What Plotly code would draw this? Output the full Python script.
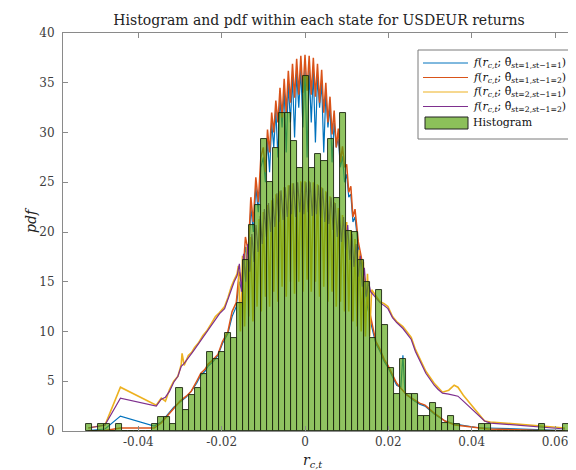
import plotly.graph_objects as go

# ---------------- data ----------------
bin_start = -0.0526
bin_width = 0.00145
hist_heights = [
    0.7, 0, 0.7, 0.7, 0, 0.7, 0, 0, 0, 0,
    0, 0.7, 1.4, 1.4, 0.7, 4.3, 2.1, 3.6, 4.3, 5.7,
    7.9, 7.2, 7.9, 9.9, 9.3, 12.9, 17.2, 20.7, 22.7, 29.3,
    25.0, 28.4, 32.0, 32.0, 29.1, 26.4, 35.7, 26.4, 27.8, 27.1,
    29.3, 23.4, 32.0, 20.1, 20.0, 17.2, 15.0, 9.3, 14.2, 10.7,
    6.3, 3.7, 7.2, 3.7, 3.7, 1.5, 1.5, 2.8, 2.3, 0.8,
    1.5, 0.7, 0, 0, 0, 0.7, 0.7, 0, 0, 0,
    0, 0, 0, 0, 0, 0.7, 0, 0, 0, 0.7,
]

# f(r; theta s_t=1, s_t-1=1)  (blue)
blue_x = [-0.0520, -0.0480, -0.0443, -0.0362, -0.0345, -0.0330, -0.0315, -0.0300, -0.0285, -0.0273,
          -0.0260, -0.0250, -0.0240, -0.0233, -0.0220, -0.0209, -0.0198, -0.0185, -0.0175, -0.0165,
          -0.0158, -0.0150, -0.0143, -0.0136, -0.0130, -0.0124, -0.0118, -0.0112, -0.0106, -0.0100,
          -0.0095, -0.0090, -0.0085, -0.0080, -0.0075, -0.0070, -0.0065, -0.0060, -0.0055, -0.0050,
          -0.0045, -0.0040, -0.0035, -0.0030, -0.0025, -0.0020, -0.0015, -0.0010, -0.0005, 0.0000,
          0.0005, 0.0010, 0.0015, 0.0020, 0.0025, 0.0030, 0.0035, 0.0040, 0.0045, 0.0050,
          0.0055, 0.0060, 0.0065, 0.0070, 0.0075, 0.0080, 0.0085, 0.0090, 0.0095, 0.0100,
          0.0105, 0.0110, 0.0115, 0.0120, 0.0128, 0.0135, 0.0142, 0.0150, 0.0160, 0.0170,
          0.0180, 0.0190, 0.0199, 0.0210, 0.0220, 0.0230, 0.0235, 0.0240, 0.0260, 0.0275,
          0.0288, 0.0310, 0.0336, 0.0360, 0.0420, 0.0440, 0.0567, 0.0624]
blue_y = [0.05, 0.2, 1.5, 0.5, 0.9, 1.6, 2.4, 2.9, 3.4, 4.0,
          4.8, 5.6, 6.0, 6.5, 7.0, 7.6, 8.8, 9.8, 11.5, 12.5,
          15.0, 14.0, 18.5, 17.0, 22.5, 20.0, 24.5, 22.0, 26.5, 27.5,
          25.0, 29.3, 26.0, 31.0, 28.5, 32.3, 27.5, 33.5, 30.5, 34.3,
          28.0, 35.0, 31.0, 35.6, 29.5, 36.0, 32.5, 36.3, 30.5, 36.4,
          27.5, 36.3, 31.0, 36.1, 29.0, 35.6, 32.5, 35.0, 28.0, 34.0,
          30.5, 32.6, 27.0, 31.0, 28.5, 29.4, 26.5, 27.6, 25.0, 25.8,
          23.5, 23.8, 21.0, 21.5, 18.5, 17.0, 15.0, 12.5, 10.5, 8.8,
          8.0, 7.0, 6.4, 5.4, 4.6, 4.4, 7.6, 3.8, 3.1, 2.7,
          2.5, 1.7, 1.0, 0.7, 0.3, 0.3, 0.1, 0.05]

# f(r; theta s_t=1, s_t-1=2)  (red)
red_x = [-0.0520, -0.0480, -0.0443, -0.0362, -0.0345, -0.0330, -0.0315, -0.0300, -0.0285, -0.0273,
         -0.0260, -0.0250, -0.0240, -0.0233, -0.0220, -0.0209, -0.0198, -0.0185, -0.0175, -0.0165,
         -0.0158, -0.0150, -0.0143, -0.0136, -0.0130, -0.0124, -0.0118, -0.0112, -0.0106, -0.0100,
         -0.0095, -0.0090, -0.0085, -0.0080, -0.0075, -0.0070, -0.0065, -0.0060, -0.0055, -0.0050,
         -0.0045, -0.0040, -0.0035, -0.0030, -0.0025, -0.0020, -0.0015, -0.0010, -0.0005, 0.0000,
         0.0005, 0.0010, 0.0015, 0.0020, 0.0025, 0.0030, 0.0035, 0.0040, 0.0045, 0.0050,
         0.0055, 0.0060, 0.0065, 0.0070, 0.0075, 0.0080, 0.0085, 0.0090, 0.0095, 0.0100,
         0.0105, 0.0110, 0.0115, 0.0120, 0.0128, 0.0135, 0.0142, 0.0150, 0.0160, 0.0170,
         0.0180, 0.0190, 0.0199, 0.0210, 0.0220, 0.0230, 0.0245, 0.0260, 0.0275, 0.0288,
         0.0310, 0.0336, 0.0360, 0.0420, 0.0440, 0.0567, 0.0624]
red_y = [0.02, 0.05, 0.3, 0.3, 0.8, 1.5, 2.3, 3.0, 3.5, 4.0,
         5.0, 5.8, 6.2, 6.7, 7.2, 7.7, 9.0, 10.0, 12.0, 12.9,
         16.0, 15.0, 19.5, 18.0, 23.5, 21.0, 25.5, 23.0, 27.5, 28.5,
         26.0, 30.3, 28.0, 32.0, 30.0, 33.2, 31.0, 34.5, 31.5, 35.4,
         32.0, 36.2, 33.0, 36.9, 33.5, 37.4, 33.8, 37.7, 34.0, 37.8,
         34.2, 37.7, 33.8, 37.5, 33.6, 36.9, 33.0, 36.3, 32.0, 35.0,
         31.0, 33.6, 29.8, 32.2, 28.5, 30.4, 27.0, 28.6, 26.5, 26.8,
         24.0, 24.6, 21.5, 22.3, 19.0, 17.5, 15.5, 13.0, 11.0, 9.0,
         8.2, 7.2, 6.6, 5.6, 4.8, 4.3, 3.6, 3.2, 2.8, 2.6,
         1.8, 1.0, 0.6, 0.3, 0.2, 0.05, 0.02]

# f(r; theta s_t=2, s_t-1=1)  (yellow)
yellow_x = [-0.0520, -0.0480, -0.0443, -0.0357, -0.0345, -0.0335, -0.0325, -0.0315, -0.0305, -0.0297,
            -0.0295, -0.0290, -0.0280, -0.0272, -0.0265, -0.0255, -0.0245, -0.0235, -0.0225, -0.0215,
            -0.0205, -0.0193, -0.0185, -0.0177, -0.0170, -0.0163,
            -0.0160, -0.0155, -0.0150, -0.0145, -0.0140, -0.0135, -0.0130, -0.0125, -0.0120, -0.0115,
            -0.0110, -0.0105, -0.0100, -0.0095, -0.0090, -0.0085, -0.0080, -0.0075, -0.0070, -0.0065,
            -0.0060, -0.0055, -0.0050, -0.0045, -0.0040, -0.0035, -0.0030, -0.0025, -0.0020, -0.0015,
            -0.0010, -0.0005, 0.0000, 0.0005, 0.0010, 0.0015, 0.0020, 0.0025, 0.0030, 0.0035,
            0.0040, 0.0045, 0.0050, 0.0055, 0.0060, 0.0065, 0.0070, 0.0075, 0.0080, 0.0085,
            0.0090, 0.0095, 0.0100, 0.0105, 0.0110, 0.0115, 0.0120, 0.0125, 0.0130, 0.0135,
            0.0140, 0.0145, 0.0150, 0.0155, 0.0160,
            0.0170, 0.0180, 0.0190, 0.0199, 0.0210, 0.0220, 0.0235, 0.0245, 0.0255, 0.0265,
            0.0280, 0.0290, 0.0300, 0.0310, 0.0319, 0.0330, 0.0345, 0.0358, 0.0367, 0.0380,
            0.0431, 0.0445, 0.0567, 0.0624]
yellow_y = [0.3, 0.6, 4.4, 2.6, 3.3, 3.0, 4.2, 5.0, 5.5, 6.7,
            7.8, 6.6, 7.6, 7.9, 8.4, 8.9, 9.6, 10.1, 10.8, 11.5,
            11.9, 12.5, 13.4, 14.5, 15.2, 15.8,
            16.6, 10.0, 17.6, 10.5, 18.5, 11.5, 19.5, 11.0, 20.4, 12.5,
            21.3, 12.0, 22.0, 13.5, 22.7, 12.5, 23.2, 14.0, 23.8, 13.0,
            24.1, 14.5, 24.5, 13.5, 24.7, 15.0, 24.9, 13.8, 25.0, 15.0,
            25.1, 14.0, 25.1, 15.2, 25.1, 14.0, 25.0, 15.0, 24.8, 13.5,
            24.5, 14.5, 24.1, 13.0, 23.6, 14.0, 23.0, 12.5, 22.4, 13.0,
            21.7, 12.0, 21.0, 12.0, 20.2, 11.0, 19.3, 10.5, 18.2, 10.0,
            17.0, 9.5, 15.8, 9.5, 14.2,
            13.6, 13.0, 12.8, 12.5, 11.5, 11.0, 10.5, 10.0, 9.4, 8.2,
            6.8, 6.0, 5.4, 4.8, 4.4, 3.9, 4.1, 4.6, 4.4, 3.6,
            1.0, 0.9, 0.5, 0.3]

# f(r; theta s_t=2, s_t-1=2)  (purple)
purple_x = [-0.0520, -0.0480, -0.0443, -0.0357, -0.0345, -0.0335, -0.0325, -0.0315, -0.0305, -0.0297,
            -0.0290, -0.0280, -0.0272, -0.0265, -0.0255, -0.0245, -0.0235, -0.0225, -0.0215, -0.0205,
            -0.0193, -0.0185, -0.0177, -0.0170, -0.0163,
            -0.01575, -0.01525, -0.01475, -0.01425, -0.01375, -0.01325, -0.01275, -0.01225, -0.01175, -0.01125,
            -0.01075, -0.01025, -0.00975, -0.00925, -0.00875, -0.00825, -0.00775, -0.00725, -0.00675, -0.00625,
            -0.00575, -0.00525, -0.00475, -0.00425, -0.00375, -0.00325, -0.00275, -0.00225, -0.00175, -0.00125,
            -0.00075, -0.00025, 0.00025, 0.00075, 0.00125, 0.00175, 0.00225, 0.00275, 0.00325, 0.00375,
            0.00425, 0.00475, 0.00525, 0.00575, 0.00625, 0.00675, 0.00725, 0.00775, 0.00825, 0.00875,
            0.00925, 0.00975, 0.01025, 0.01075, 0.01125, 0.01175, 0.01225, 0.01275, 0.01325, 0.01375,
            0.01425, 0.01475, 0.01525, 0.01575,
            0.0170, 0.0180, 0.0190, 0.0199, 0.0210, 0.0220, 0.0235, 0.0245, 0.0255, 0.0265,
            0.0280, 0.0290, 0.0300, 0.0310, 0.0319, 0.0330, 0.0345, 0.0358, 0.0367, 0.0380,
            0.0431, 0.0445, 0.0567, 0.0624]
purple_y = [0.3, 0.6, 3.3, 2.5, 3.2, 3.4, 4.0, 4.9, 5.5, 6.5,
            6.8, 7.3, 7.8, 8.2, 8.8, 9.4, 10.0, 10.6, 11.3, 11.8,
            12.3, 13.2, 14.3, 15.0, 15.6,
            16.8, 14.0, 17.8, 15.0, 18.8, 16.0, 19.8, 17.0, 20.7, 18.0,
            21.6, 18.8, 22.3, 19.5, 22.9, 20.0, 23.4, 20.5, 23.9, 21.0,
            24.2, 21.2, 24.5, 21.5, 24.7, 21.8, 24.9, 21.5, 25.0, 22.0,
            25.0, 21.8, 25.0, 22.0, 25.0, 21.6, 24.9, 21.8, 24.7, 21.4,
            24.4, 21.0, 24.0, 20.8, 23.5, 20.2, 22.9, 19.5, 22.2, 19.0,
            21.5, 18.2, 20.7, 17.2, 19.8, 16.5, 18.8, 15.5, 17.6, 14.5,
            16.4, 13.5, 15.0, 14.0,
            13.4, 12.9, 12.6, 12.3, 11.4, 10.9, 10.3, 9.8, 9.2, 8.0,
            6.6, 5.8, 5.2, 4.6, 4.2, 3.8, 3.7, 3.6, 3.5, 3.0,
            1.0, 0.8, 0.4, 0.2]

x_tick_vals = [-0.04, -0.02, 0, 0.02, 0.04, 0.06]
x_tick_text = ["-0.04", "-0.02", "0", "0.02", "0.04", "0.06"]
y_tick_vals = [0, 5, 10, 15, 20, 25, 30, 35, 40]

legend_labels = [
    "<i>f</i>(<i>r</i><sub><i>c,t</i></sub>; θ̂<sub><i>s</i>t=1,<i>s</i>t−1=1</sub>)",
    "<i>f</i>(<i>r</i><sub><i>c,t</i></sub>; θ̂<sub><i>s</i>t=1,<i>s</i>t−1=2</sub>)",
    "<i>f</i>(<i>r</i><sub><i>c,t</i></sub>; θ̂<sub><i>s</i>t=2,<i>s</i>t−1=1</sub>)",
    "<i>f</i>(<i>r</i><sub><i>c,t</i></sub>; θ̂<sub><i>s</i>t=2,<i>s</i>t−1=2</sub>)",
    "Histogram",
]

# ---------------- styles ----------------
C_BLUE, C_RED, C_YEL, C_PUR = "#0072BD", "#D95319", "#EDB120", "#7E2F8E"
BAR_FILL = "rgba(87,165,15,0.66)"
BAR_EDGE = "#1c2610"
FONT = "DejaVu Serif"
AX_COL = "#8a8a8a"
TXT_COL = "#3c3c3c"

W, H = 576, 470
ML, MR, MT, MB = 55, 1, 25, 47
PW, PH = W - ML - MR, H - MT - MB
X_RANGE = [-0.05808, 0.06672]
Y_RANGE = [0, 40]


def px(xp):
    return (xp - ML) / PW


def py(yp):
    return (H - MB - yp) / PH


bin_centers = [bin_start + (k + 0.5) * bin_width for k in range(len(hist_heights))]

fig = go.Figure()
for xs, ys, col, lw in [(blue_x, blue_y, C_BLUE, 1.2), (red_x, red_y, C_RED, 1.5),
                        (yellow_x, yellow_y, C_YEL, 1.6), (purple_x, purple_y, C_PUR, 1.2)]:
    fig.add_trace(go.Scatter(x=xs, y=ys, mode="lines", line=dict(color=col, width=lw),
                             showlegend=False, hoverinfo="skip"))

# histogram on an overlaying (identical) pair of axes so that it is drawn on top of the lines
fig.add_trace(go.Bar(x=bin_centers, y=hist_heights, width=bin_width,
                     xaxis="x2", yaxis="y2",
                     marker=dict(color=BAR_FILL, line=dict(color=BAR_EDGE, width=0.9)),
                     showlegend=False, hoverinfo="skip"))

# ---------------- legend (drawn by hand, MATLAB style) ----------------
shapes = [dict(type="rect", xref="paper", yref="paper",
               x0=px(410), x1=px(568), y0=py(131), y1=py(42),
               line=dict(color="#7a7a7a", width=1), fillcolor="white", layer="above")]
annotations = []
entry_y = [55, 69.5, 84, 98.5, 115]
for col, yy in zip([C_BLUE, C_RED, C_YEL, C_PUR], entry_y[:4]):
    shapes.append(dict(type="line", xref="paper", yref="paper",
                       x0=px(415), x1=px(460), y0=py(yy), y1=py(yy),
                       line=dict(color=col, width=1), layer="above"))
shapes.append(dict(type="rect", xref="paper", yref="paper",
                   x0=px(417), x1=px(460), y0=py(121), y1=py(109),
                   line=dict(color="#222222", width=1), fillcolor="#8cc05a", layer="above"))
for lab, yy in zip(legend_labels, entry_y):
    annotations.append(dict(text=lab, xref="paper", yref="paper", x=px(463), y=py(yy),
                            xanchor="left", yanchor="middle", showarrow=False,
                            font=dict(family=FONT, size=11, color="#111111")))

# axis titles
annotations.append(dict(text="<i>pdf</i>", xref="paper", yref="paper", x=px(23), y=py(212),
                        xanchor="center", yanchor="middle", textangle=-90, showarrow=False,
                        font=dict(family=FONT, size=14, color="#222222")))
annotations.append(dict(text="<i>r</i><sub><i>c,t</i></sub>", xref="paper", yref="paper",
                        x=px(304), y=py(453), xanchor="center", yanchor="middle",
                        showarrow=False, font=dict(family=FONT, size=14, color="#222222")))

fig.update_layout(
    width=W, height=H,
    margin=dict(l=ML, r=MR, t=MT, b=MB, pad=0),
    paper_bgcolor="white", plot_bgcolor="white",
    barmode="overlay", bargap=0,
    title=dict(text="Histogram and pdf within each state for USDEUR returns",
               x=311 / W, xref="container", xanchor="center",
               y=1 - 12 / H, yanchor="middle",
               font=dict(family=FONT, size=14, color="#222222")),
    shapes=shapes, annotations=annotations,
    xaxis=dict(range=X_RANGE, tickvals=x_tick_vals, ticktext=x_tick_text,
               showgrid=False, zeroline=False, showline=True, linecolor=AX_COL, linewidth=1,
               mirror="ticks", ticks="inside", ticklen=5, tickcolor=AX_COL,
               tickfont=dict(family=FONT, size=12, color=TXT_COL), ticklabelstandoff=0),
    yaxis=dict(range=Y_RANGE, tickvals=y_tick_vals,
               showgrid=False, zeroline=False, showline=True, linecolor=AX_COL, linewidth=1,
               mirror="ticks", ticks="inside", ticklen=5, tickcolor=AX_COL,
               tickfont=dict(family=FONT, size=12, color=TXT_COL), ticklabelstandoff=5),
    xaxis2=dict(range=X_RANGE, overlaying="x", visible=False, showgrid=False, zeroline=False),
    yaxis2=dict(range=Y_RANGE, overlaying="y", visible=False, showgrid=False, zeroline=False),
)

fig.write_html("out.html")
